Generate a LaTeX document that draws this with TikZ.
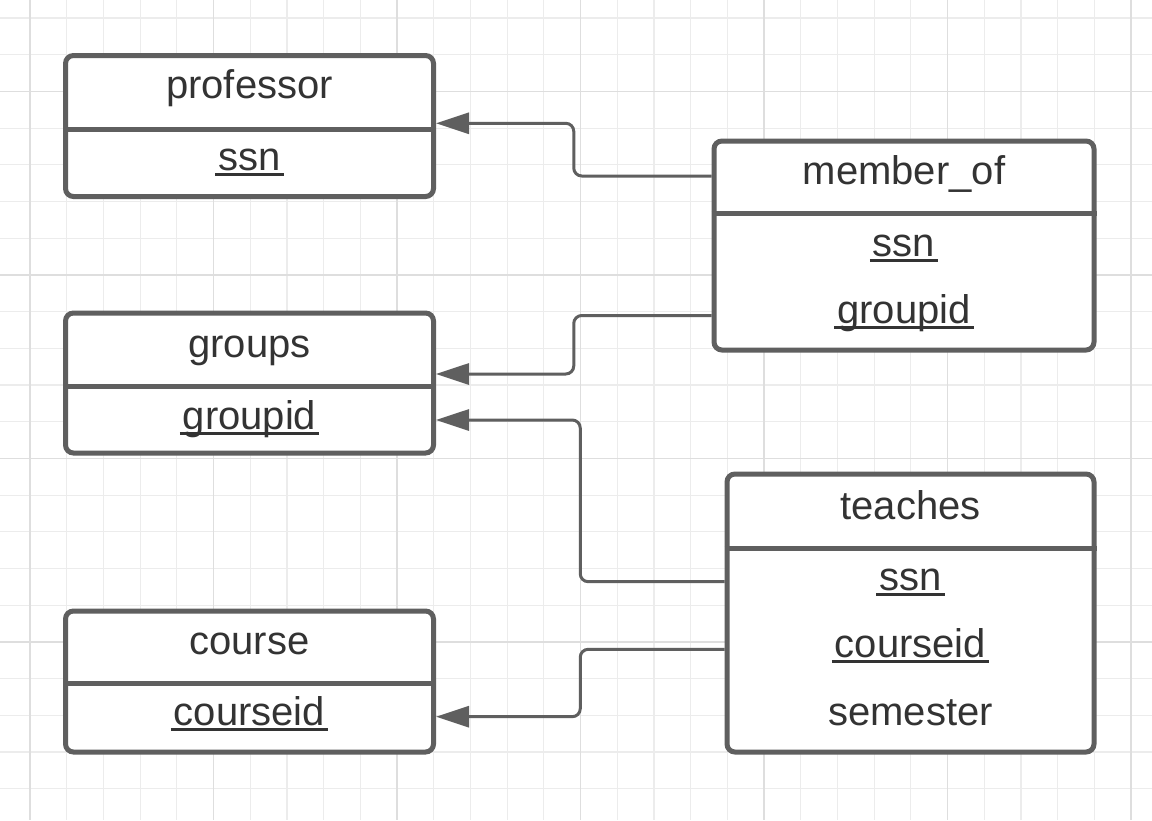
\documentclass[tikz,border=0pt]{standalone}
\usepackage{fontspec}
\setmainfont{Liberation Sans}
\usetikzlibrary{calc}
\usetikzlibrary{arrows.meta}
\definecolor{linegray}{RGB}{95,95,95}
\definecolor{textgray}{RGB}{51,51,51}
\definecolor{gridminor}{RGB}{236,236,236}
\definecolor{gridmajor}{RGB}{222,222,222}
\tikzset{>={Triangle[width=10.5pt,length=16.5pt]}}
\tikzset{
  font={\fontsize{20pt}{24pt}\selectfont}}
\tikzset{
  entity/.style={draw=linegray, line width=2.5pt, fill=white, rounded corners=4pt, inner sep=0pt},
  divider/.style={draw=linegray, line width=2.5pt},
  attr/.style={anchor=base, text=textgray, inner sep=0pt},
  fk/.style={->, draw=linegray, line width=1.5pt, rounded corners=4pt},
  gridline/.style={draw=gridminor, line width=0.6pt},
  gridbold/.style={draw=gridmajor, line width=0.6pt},
}
% underlined key attribute
\newcommand{\pkey}[1]{\setbox0=\hbox{#1}\rlap{\kern-1.5pt\rule[-2.9pt]{\dimexpr\wd0+3pt\relax}{1.3pt}}\box0}

\begin{document}
\begin{tikzpicture}[x=0.5pt, y=-0.5pt]
     \fill[white] (0,0) rectangle (1152,820);
     \useasboundingbox (0,0) rectangle (1152,820);

     % background grid
     \foreach \i in {-1,...,31}
       \draw[gridline] ({30+36.7*\i},0) -- ({30+36.7*\i},820);
     \foreach \j in {0,...,22}
       \draw[gridline] (0,{18+36.7*\j}) -- (1152,{18+36.7*\j});
     \foreach \i in {0,5,...,30}
       \draw[gridbold] ({30+36.7*\i},0) -- ({30+36.7*\i},820);
     \foreach \j in {2,7,...,22}
       \draw[gridbold] (0,{18+36.7*\j}) -- (1152,{18+36.7*\j});

     %% tables
     \node[entity, minimum width=184pt, minimum height=70.5pt] (professor) at (249.5,126) {};
     \draw[divider] (professor.west |- 0,129) -- (professor.east |- 0,129);
     \node[attr] (prof-title) at (249.5,98) {professor};
     \node[attr] (prof-ssn) at (249.5,170) {\pkey{ssn}};

     \node[entity, minimum width=184pt, minimum height=70pt] (groups) at (249.5,383) {};
     \draw[divider] (groups.west |- 0,386) -- (groups.east |- 0,386);
     \node[attr] (grp-title) at (249.5,357) {groups};
     \node[attr] (grp-groupid) at (249.5,429) {\pkey{groupid}};

     \node[entity, minimum width=184pt, minimum height=70.5pt] (course) at (249.5,681.5) {};
     \draw[divider] (course.west |- 0,683) -- (course.east |- 0,683);
     \node[attr] (crs-title) at (249.5,654) {course};
     \node[attr] (crs-courseid) at (249.5,725) {\pkey{courseid}};

     \node[entity, minimum width=190pt, minimum height=104.5pt] (memberof) at (904,245.5) {};
     \draw[divider] (memberof.west |- 0,213) -- (memberof.east |- 0,213);
     \node[attr] (mo-title) at (904,184) {member\_of};
     \node[attr] (mo-ssn) at (904,256) {\pkey{ssn}};
     \node[attr] (mo-groupid) at (904,323) {\pkey{groupid}};

     \node[entity, minimum width=183.5pt, minimum height=139pt] (teaches) at (910.5,613) {};
     \draw[divider] (teaches.west |- 0,548) -- (teaches.east |- 0,548);
     \node[attr] (tch-title) at (910.5,519) {teaches};
     \node[attr] (tch-ssn) at (910.5,590) {\pkey{ssn}};
     \node[attr] (tch-courseid) at (910.5,657) {\pkey{courseid}};
     \node[attr] (tch-semester) at (910.5,725) {semester};

     %% foreign keys
     \draw[fk] ([yshift=34.75pt]memberof.west) -| ($([yshift=34.75pt]memberof.west)!0.5!([yshift=1.35pt]professor.east)$) |- ([yshift=1.35pt]professor.east);
     \draw[fk] ([yshift=-35pt]memberof.west) -| ($([yshift=-35pt]memberof.west)!0.5!([yshift=4.5pt]groups.east)$) |- ([yshift=4.5pt]groups.east);
     \draw[fk] ([yshift=15.65pt]teaches.west) -| ($([yshift=15.65pt]teaches.west)!0.5!([yshift=-18.5pt]groups.east)$) |- ([yshift=-18.5pt]groups.east);
     \draw[fk] ([yshift=-18.15pt]teaches.west) -| ($([yshift=-18.15pt]teaches.west)!0.5!([yshift=-17.6pt]course.east)$) |- ([yshift=-17.6pt]course.east);
\end{tikzpicture}
\end{document}
